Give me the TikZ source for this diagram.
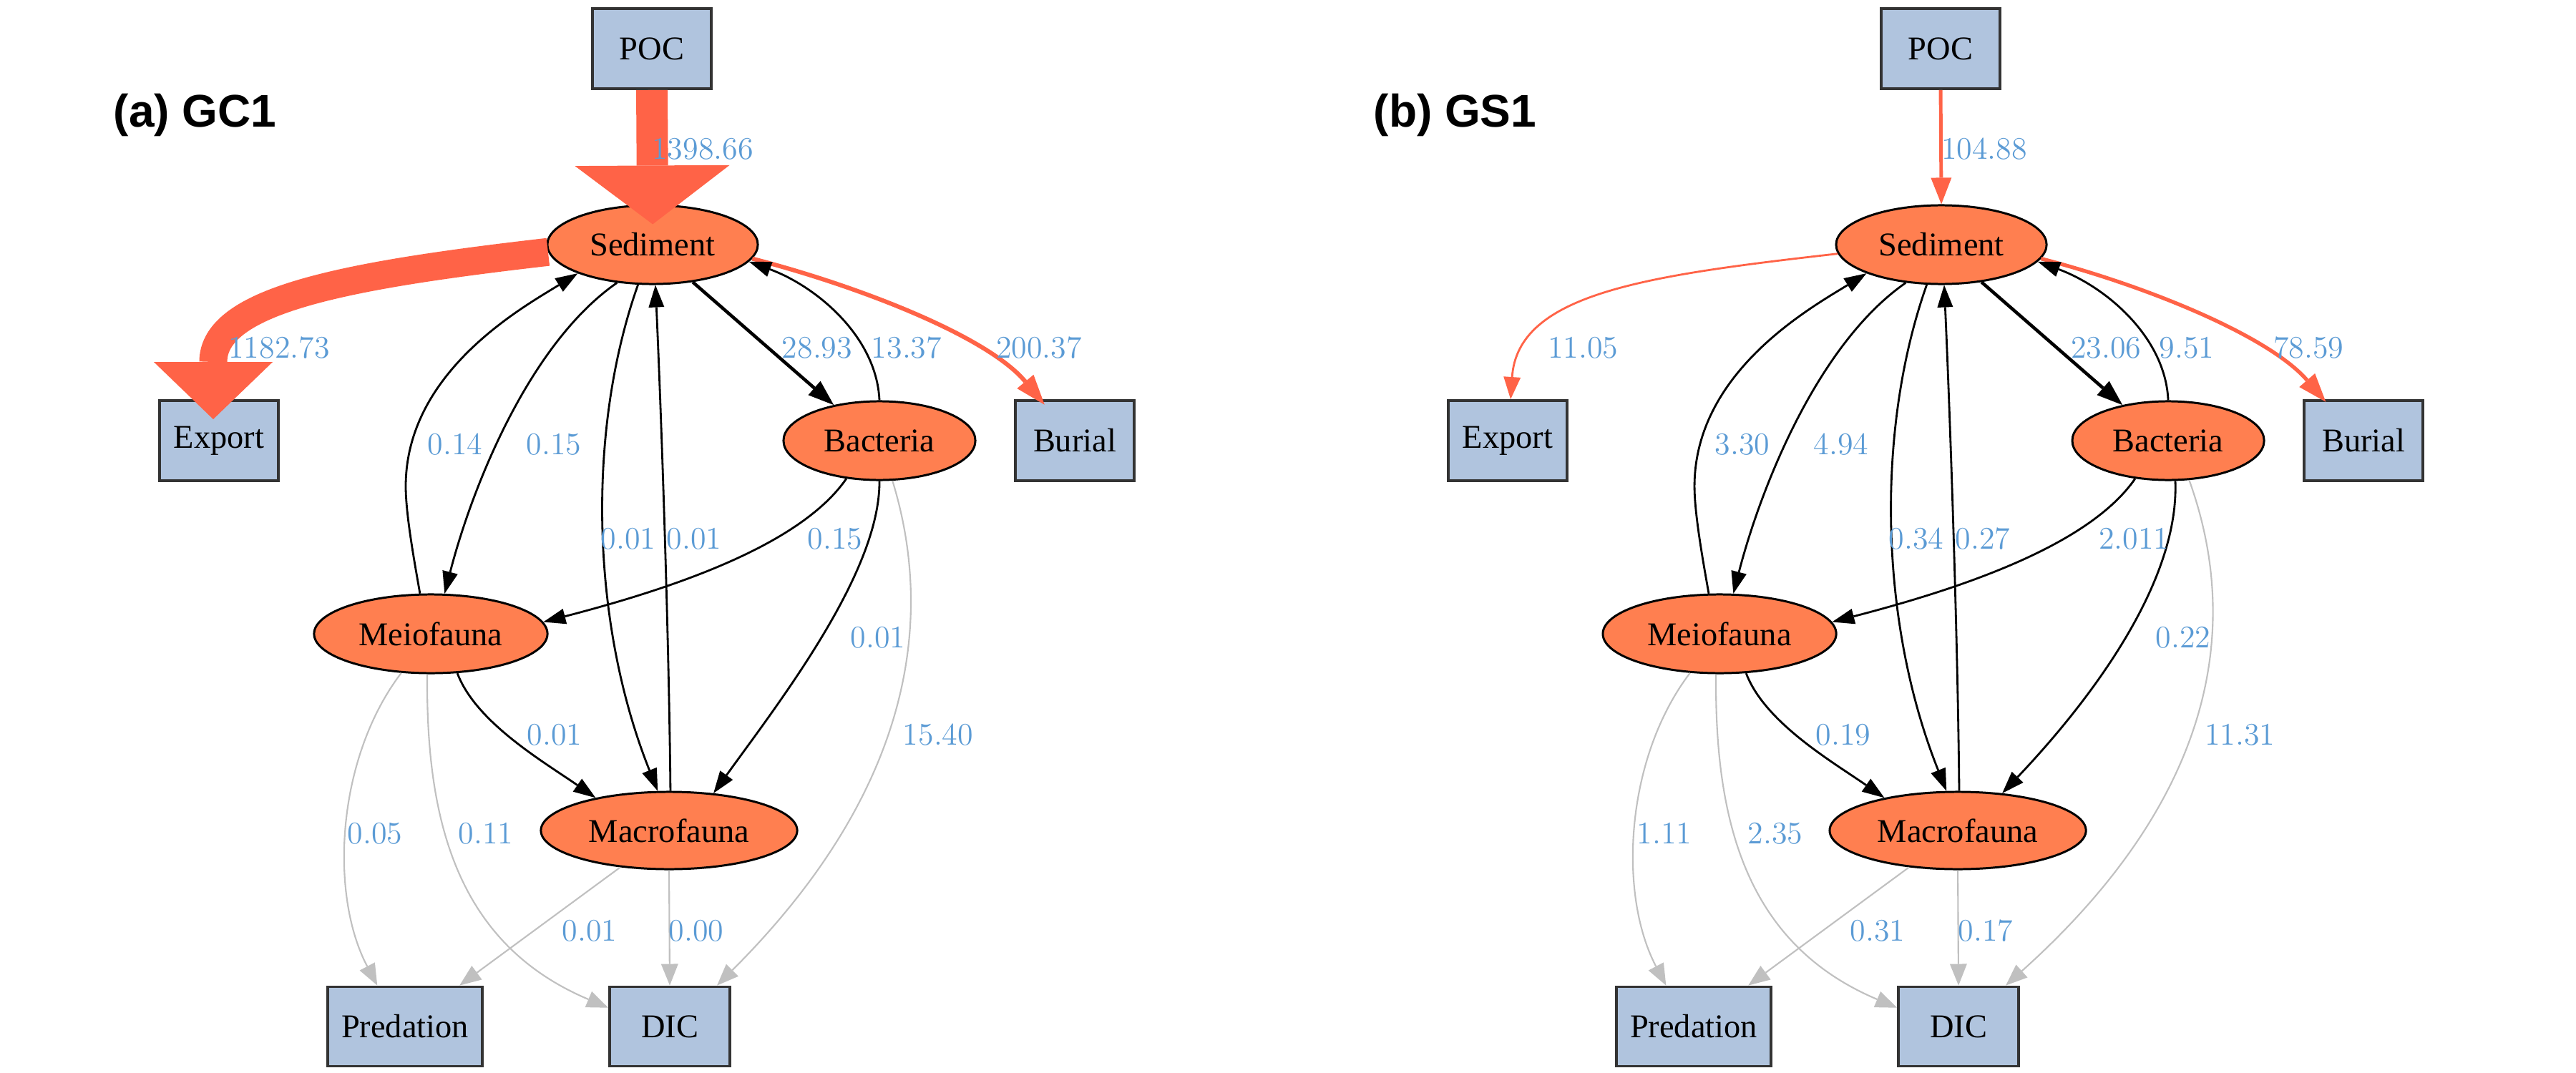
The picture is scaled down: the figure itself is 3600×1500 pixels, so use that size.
\documentclass[tikz,border=0pt]{standalone}
\usepackage{fontspec}
\newfontfamily\headfont{Liberation Sans}
\newfontfamily\boxfont{Liberation Serif}
\usetikzlibrary{arrows.meta,shapes.geometric}
\definecolor{coralfill}{HTML}{FF7F50}
\definecolor{tomatoline}{HTML}{FF6347}
\definecolor{boxfill}{HTML}{B0C4DE}
\definecolor{boxline}{HTML}{333333}
\definecolor{labblue}{HTML}{5B9BD5}
\definecolor{grayline}{HTML}{C0C0C0}
\newcommand\nodefont{\boxfont\fontsize{13.2}{15}\selectfont}
\newcommand\labfont{\fontsize{12.5}{15}\selectfont}
\tikzset{
  pool/.style={draw=boxline, line width=1.1pt, fill=boxfill, minimum width=1.66cm, minimum height=1.12cm, inner sep=0pt, font=\nodefont},
  comp/.style={ellipse, draw=black, line width=0.85pt, fill=coralfill, inner sep=0pt, minimum height=1.10cm, font=\nodefont},
  flow/.style={draw=black, line width=0.8pt, -{Triangle[length=0.31cm,width=0.22cm,line width=0pt]}},
  flowthick/.style={draw=black, line width=1.3pt, -{Triangle[length=0.36cm,width=0.26cm,line width=0pt]}},
  loss/.style={draw=grayline, line width=0.6pt, -{Triangle[length=0.30cm,width=0.24cm,line width=0pt]}},
  lab/.style={text=labblue, font=\labfont, anchor=base, inner sep=0pt},
  paneltitle/.style={font=\headfont\bfseries\fontsize{18.2}{22}\selectfont, anchor=base west, inner sep=0pt},
}
\newcommand\panelnodes[1]{%
  \node[pool] (#1poc) at (911,68) {POC};
  \node[comp, minimum width=2.94cm] (#1sed) at (912,342) {Sediment};
  \node[pool] (#1exp) at (306,616) {Export};
  \node[pool] (#1bur) at (1502,616) {Burial};
  \node[comp, minimum width=2.68cm] (#1bac) at (1229,616) {Bacteria};
  \node[comp, minimum width=3.26cm] (#1mei) at (602,886) {Meiofauna};
  \node[comp, minimum width=3.58cm, minimum height=1.08cm] (#1mac) at (935,1161) {Macrofauna};
  \node[pool, minimum width=2.16cm, minimum height=1.11cm] (#1pre) at (566,1435) {Predation};
  \node[pool, minimum width=1.68cm, minimum height=1.11cm] (#1dic) at (936,1435) {DIC};
}
\newcommand\commonedges[1]{%
  \draw[flowthick] (#1sed.-43) -- (#1bac.142);
  \draw[flow] (#1bac.90) .. controls (1225,470) and (1140,400) .. (#1sed.-10);
  \draw[flow] (#1mei.105) .. controls (580,790) and (567,720) .. (567,680) .. controls (567,520) and (730,430) .. (#1sed.201);
  \draw[flow] (#1sed.227) .. controls (740,480) and (660,680) .. (#1mei.71);
  \draw[flow] (#1sed.250) .. controls (820,600) and (825,870) .. (#1mac.106);
  \draw[flow] (#1mac.88) .. controls (935,900) and (925,600) .. (#1sed.274);
  \draw[flow] (#1bac.229) .. controls (1120,760) and (950,820) .. (#1mei.6);
  \draw[flow] (#1mei.304) .. controls (665,1010) and (760,1065) .. (#1mac.156);
  \draw[loss] (#1mei.233) .. controls (470,1060) and (460,1250) .. (#1pre.124);
  \draw[loss] (#1mei.265) .. controls (595,1150) and (640,1320) .. (#1dic.163);
  \draw[loss] (#1mac.217) -- (#1pre.37);
  \draw[loss] (#1mac.south) -- (#1dic.north);
}
\begin{document}
\begin{tikzpicture}[x=0.01cm, y=-0.01cm]
  \fill[white] (0,0) rectangle (3600,1500);
  \useasboundingbox (0,0) rectangle (3600,1500);

  % ---------------- panel (a) ----------------
  \node[paneltitle] (ta) at (158,178) {(a) GC1};
  \panelnodes{a}
  \draw[tomatoline, line width=12.5pt, -{Triangle[length=0.82cm,width=2.16cm,line width=0pt]}, shorten >=-0.28cm] (apoc.south) -- (ased.north);
  \draw[tomatoline, line width=11.1pt, -{Triangle[length=0.80cm,width=1.66cm,line width=0pt]}, shorten >=-0.28cm] (ased.184) .. controls (480,385) and (298,420) .. ([xshift=-0.08cm]aexp.north);
  \draw[tomatoline, line width=1.7pt, -{Triangle[length=0.42cm,width=0.30cm,line width=0pt]}, shorten >=-0.1cm] (ased.-8) .. controls (1200,400) and (1380,470) .. (abur.130);
  \commonedges{a}
  \draw[flow] (abac.270) .. controls (1230,800) and (1090,980) .. (amac.40);
  \draw[loss] (abac.-72) .. controls (1305,860) and (1280,1100) .. (adic.41);

  \node[lab] (la1) at (982,222) {1398.66};
  \node[lab] (la2) at (390,500) {1182.73};
  \node[lab] (la3) at (1142,500) {28.93};
  \node[lab] (la4) at (1267,500) {13.37};
  \node[lab] (la5) at (1452,500) {200.37};
  \node[lab] (la6) at (636,635) {0.14};
  \node[lab] (la7) at (774,635) {0.15};
  \node[lab] (la8) at (878,767) {0.01};
  \node[lab] (la9) at (970,767) {0.01};
  \node[lab] (la10) at (1167,767) {0.15};
  \node[lab] (la11) at (1227,905) {0.01};
  \node[lab] (la12) at (775,1041) {0.01};
  \node[lab] (la13) at (1311,1041) {15.40};
  \node[lab] (la14) at (524,1179) {0.05};
  \node[lab] (la15) at (679,1179) {0.11};
  \node[lab] (la16) at (824,1315) {0.01};
  \node[lab] (la17) at (973,1315) {0.00};

  % ---------------- panel (b) ----------------
  \node[paneltitle] (tb) at (1919,178) {(b) GS1};
  \begin{scope}[xshift=18cm]
    \panelnodes{b}
    \draw[tomatoline, line width=1.4pt, -{Triangle[length=0.37cm,width=0.29cm,line width=0pt]}] (bpoc.south) -- (bsed.north);
    \draw[tomatoline, line width=0.8pt, -{Triangle[length=0.31cm,width=0.24cm,line width=0pt]}] (bsed.185) .. controls (500,385) and (320,410) .. (bexp.86);
    \draw[tomatoline, line width=1.5pt, -{Triangle[length=0.40cm,width=0.29cm,line width=0pt]}, shorten >=-0.05cm] (bsed.-8) .. controls (1200,400) and (1370,470) .. (bbur.134);
    \commonedges{b}
    \draw[flow] (bbac.-80) .. controls (1245,820) and (1110,990) .. (bmac.40);
    \draw[loss] (bbac.-62) .. controls (1330,870) and (1300,1110) .. (bdic.41);

    \node[lab] (lb1) at (972,222) {104.88};
    \node[lab] (lb2) at (411,500) {11.05};
    \node[lab] (lb3) at (1142,500) {23.06};
    \node[lab] (lb4) at (1255,500) {9.51};
    \node[lab] (lb5) at (1425,500) {78.59};
    \node[lab] (lb6) at (634,635) {3.30};
    \node[lab] (lb7) at (772,635) {4.94};
    \node[lab] (lb8) at (877,767) {0.34};
    \node[lab] (lb9) at (970,767) {0.27};
    \node[lab] (lb10) at (1181,767) {2.011};
    \node[lab] (lb11) at (1250,905) {0.22};
    \node[lab] (lb12) at (775,1041) {0.19};
    \node[lab] (lb13) at (1329,1041) {11.31};
    \node[lab] (lb14) at (525,1179) {1.11};
    \node[lab] (lb15) at (680,1179) {2.35};
    \node[lab] (lb16) at (823,1315) {0.31};
    \node[lab] (lb17) at (974,1315) {0.17};
  \end{scope}
\end{tikzpicture}
\end{document}
